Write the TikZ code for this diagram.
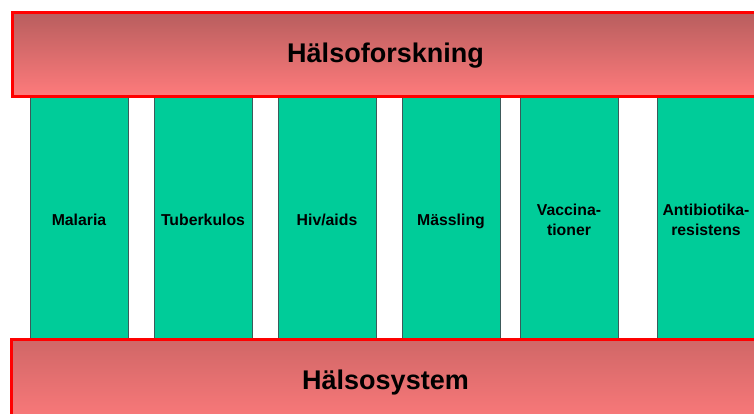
\documentclass[tikz,border=0pt]{standalone}
\usepackage{fontspec}
\setmainfont{Liberation Sans}
\definecolor{colGreen}{RGB}{0,204,153}
\definecolor{colEdge}{RGB}{60,90,90}
\definecolor{barTop}{RGB}{184,94,94}
\definecolor{barMid}{RGB}{232,112,112}
\definecolor{barBot}{RGB}{255,123,124}
\definecolor{barTopB}{RGB}{208,103,103}
\begin{document}
\begin{tikzpicture}[x=1pt,y=-1pt]
\useasboundingbox (0,0) rectangle (754,414);
\tikzset{
  col/.style={draw=colEdge, line width=1pt, fill=colGreen, minimum width=98pt,
    minimum height=242pt, anchor=north west, inner sep=0pt},
  collabel/.style={font=\bfseries\fontsize{15.8}{20}\selectfont, align=center, text=black, inner sep=0pt},
  bar/.style={draw=red, line width=3pt, anchor=north west, inner sep=0pt},
  barlabel/.style={font=\bfseries\fontsize{27}{32}\selectfont, text=black, inner sep=0pt, anchor=base}
}
% columns
\node[col] (c1) at (30,96) {};
\node[col] (c2) at (154,96) {};
\node[col] (c3) at (278,96) {};
\node[col] (c4) at (402,96) {};
\node[col] (c5) at (520,96) {};
\node[col] (c6) at (657,96) {};
\node[collabel, anchor=base] (l1) at (79,225.7) {Malaria};
\node[collabel, anchor=base] (l2) at (203,225.7) {Tuberkulos};
\node[collabel, anchor=base] (l3) at (327,225.7) {Hiv/aids};
\node[collabel, anchor=base] (l4) at (451,225.7) {Mässling};
\node[collabel, anchor=base] (l5) at (569,215) {Vaccina-};
\node[collabel, anchor=base] (l5b) at (569,235) {tioner};
\node[collabel, anchor=base] (l6) at (706,215) {Antibiotika-};
\node[collabel, anchor=base] (l6b) at (706,235) {resistens};
% bars
\node[bar, top color=barTop, middle color=barMid, bottom color=barBot,
  minimum width=760pt, minimum height=84pt] (top) at (11,11.5) {};
\node[bar, top color=barTopB, bottom color=barBot,
  minimum width=760pt, minimum height=90pt] (bottom) at (10,338) {};
\node[barlabel] (tt) at (385.5,63) {Hälsoforskning};
\node[barlabel] (bt) at (385.5,389.3) {Hälsosystem};
\end{tikzpicture}
\end{document}
